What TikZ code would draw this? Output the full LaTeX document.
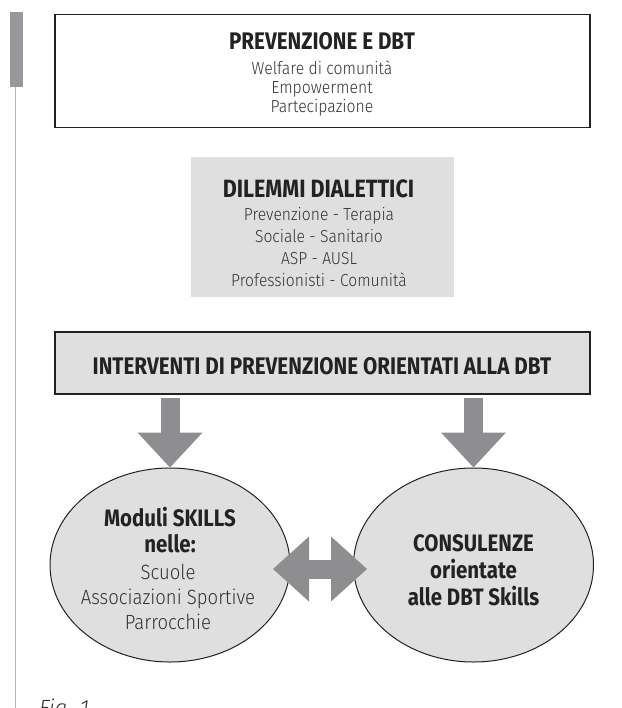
\documentclass[tikz,border=0pt]{standalone}
\usepackage{fontspec}
\setmainfont{Fira Sans}[UprightFont=* Light,UprightFeatures={FakeStretch=0.9},
  BoldFont=* Bold,BoldFeatures={FakeStretch=0.86},ItalicFont=* Light Italic]
\usetikzlibrary{arrows.meta,shapes.geometric}
\definecolor{boxgray}{HTML}{DFDFE0}
\definecolor{arrowgray}{HTML}{8E8E90}
\definecolor{bargray}{HTML}{98989C}
\definecolor{rulegray}{HTML}{B5B5B5}
\definecolor{ink}{HTML}{222222}
\definecolor{bodyink}{HTML}{333333}
\newcommand{\fs}[2]{\fontsize{#1}{#2}\selectfont}
\begin{document}
\begin{tikzpicture}[x=1pt,y=-1pt,
  frame/.style={draw=ink,line width=1.5pt,inner sep=0pt},
  softbox/.style={fill=boxgray,inner sep=0pt},
  oval/.style={ellipse,draw=ink,line width=1pt,fill=boxgray,inner sep=0pt,
    minimum width=240pt,minimum height=194pt},
  txt/.style={inner sep=0pt,align=center},
  head/.style={txt,text=ink},
  body/.style={txt,text=bodyink},
  blockarrow/.style={arrowgray,line width=19pt,
    -{Triangle[length=35pt,width=65pt,line width=0pt]}},
  twinarrow/.style={arrowgray,line width=19pt,
    {Triangle[length=36pt,width=65pt,line width=0pt]}-{Triangle[length=36pt,width=65pt,line width=0pt]}}
]
\useasboundingbox (0,0) rectangle (621,708);

% margin marker and rule
\fill[bargray] (10,12) rectangle (23,87);
\draw[rulegray,line width=1.2pt] (15.5,87) -- (15.5,708);

% top box
\node[frame,minimum width=535pt,minimum height=113pt] (top) at (322.5,71) {};
\node[head,font=\bfseries\fs{24}{26}] (toptitle) at (322,41.3) {PREVENZIONE E DBT};
\node[body,font=\fs{17.5}{19}] (toptext) at (322,88) {Welfare di comunità\\Empowerment\\Partecipazione};

% dialectical dilemmas
\node[softbox,minimum width=263pt,minimum height=139pt] (dil) at (322.5,227) {};
\node[head,font=\bfseries\fs{25}{27}] (diltitle) at (318.5,189) {DILEMMI DIALETTICI};
\node[body,font=\fs{17.4}{22.1}] (diltext) at (319,247)
  {Prevenzione - Terapia\\Sociale - Sanitario\\ASP - AUSL\\Professionisti - Comunità};

% interventions bar
\node[frame,fill=boxgray,minimum width=535pt,minimum height=62pt] (int) at (322.5,363) {};
\node[head,font=\bfseries\fs{24}{26}] (inttitle) at (322,366.5)
  {INTERVENTI DI PREVENZIONE ORIENTATI ALLA DBT};

% ovals
\node[oval] (mod) at (170,565) {};
\node[head,font=\bfseries\fs{23.8}{26.3}] (modhead) at (170,530) {Moduli SKILLS\\nelle:};
\node[body,font=\fs{20.6}{25}] (modtext) at (168,596.5) {Scuole\\Associazioni Sportive\\Parrocchie};
\node[oval] (cons) at (473.5,565) {};
\node[head,font=\bfseries\fs{23.8}{26.8}] (constext) at (473.5,570) {CONSULENZE\\orientate\\alle DBT Skills};

% connectors
\coordinate (a1) at (170,398);
\coordinate (a2) at (473.5,398);
\draw[blockarrow] (a1) -- (mod.north);
\draw[blockarrow] (a2) -- (cons.north);
\draw[twinarrow] (273,569) -- (367,569);

% caption
\node[anchor=base west,font=\itshape\fs{22}{24},text=bodyink,inner sep=0pt] (cap) at (39,715) {Fig. 1};
\end{tikzpicture}
\end{document}
